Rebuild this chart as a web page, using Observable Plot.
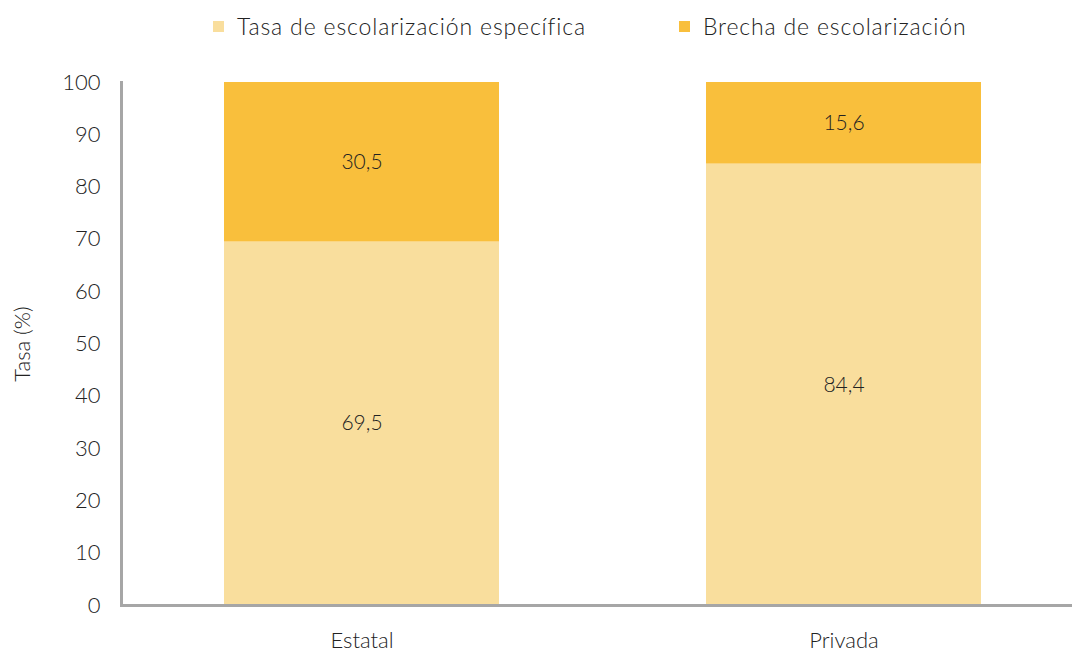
<!DOCTYPE html>
<html>
<head>
<meta charset="utf-8">
<script src="https://cdn.jsdelivr.net/npm/d3@7"></script>
<script src="https://cdn.jsdelivr.net/npm/@observablehq/plot@0.6"></script>
<style>
  html, body { margin: 0; padding: 0; background: #fff; }
  #wrap { position: relative; width: 1072px; height: 655px; font-family: Lato, "Noto Sans", sans-serif; font-weight: 300; color: #222; }
  .leg { position: absolute; top: 11px; height: 31px; display: flex; align-items: center; font-size: 23px; letter-spacing: 0.85px; white-space: nowrap; }
  .leg span { position: relative; top: -1px; }
  .sw { width: 11px; height: 11px; margin-right: 13px; }
  #chart { position: absolute; left: 0; top: 50px; }
</style>
</head>
<body>
<div id="wrap">
  <div id="legend"></div>
  <div id="chart"></div>
</div>
<script>
const categories = ["Estatal", "Privada"];
const tasaEspecifica = [69.5, 84.4];
const brecha = [30.5, 15.6];
const seriesNames = ["Tasa de escolarización específica", "Brecha de escolarización"];
const seriesColors = ["#F9DE9D", "#F9BF3C"];
const yTicks = [0, 10, 20, 30, 40, 50, 60, 70, 80, 90, 100];
const yTitle = "Tasa (%)";

const data = categories.flatMap((c, i) => [
  {cat: c, serie: seriesNames[0], value: tasaEspecifica[i]},
  {cat: c, serie: seriesNames[1], value: brecha[i]}
]);

// legend
const legendPos = [213, 679];
const legend = document.getElementById("legend");
seriesNames.forEach((s, i) => {
  const d = document.createElement("div");
  d.className = "leg";
  d.style.left = legendPos[i] + "px";
  d.innerHTML = `<div class="sw" style="background:${seriesColors[i]}"></div><span>${s}</span>`;
  legend.appendChild(d);
});

const fmt = v => v.toFixed(1).replace(".", ",");
const txt = "#222";

const chart = Plot.plot({
  width: 1072,
  height: 605,
  marginTop: 32,
  marginBottom: 50,
  marginLeft: 121,
  marginRight: 0,
  style: {fontFamily: "Lato, 'Noto Sans', sans-serif", fontWeight: 300, fontSize: "21px", color: txt, background: "transparent"},
  x: {domain: categories, range: [121, 1084], paddingInner: 0.4286, paddingOuter: 0.2112},
  y: {domain: [0, 100]},
  color: {domain: seriesNames, range: seriesColors},
  marks: [
    Plot.barY(data, {x: "cat", y: "value", fill: "serie", order: seriesNames}),
    Plot.text(data, Plot.stackY({x: "cat", y: "value", z: "serie", order: seriesNames, text: d => fmt(d.value), fill: txt, fontSize: 21})),
    Plot.axisX({label: null, tickSize: 0, tickPadding: 27, fontSize: 22, fill: txt}),
    Plot.axisY({ticks: yTicks, label: null, tickSize: 0, tickPadding: 21, fontSize: 22, fill: txt}),
    Plot.frame({anchor: "left", stroke: "#a6a6a6", strokeWidth: 3}),
    Plot.frame({anchor: "bottom", stroke: "#a6a6a6", strokeWidth: 3}),
    Plot.text([yTitle], {frameAnchor: "left", textAnchor: "middle", rotate: -90, dx: -99, fill: txt, fontSize: 22})
  ]
});
document.getElementById("chart").appendChild(chart);
</script>
</body>
</html>
